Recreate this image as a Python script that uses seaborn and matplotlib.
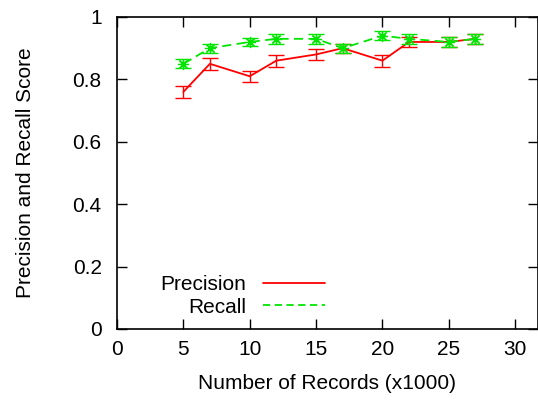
import matplotlib
matplotlib.use("Agg")
import matplotlib.pyplot as plt
from matplotlib.lines import Line2D
import seaborn as sns
import pandas as pd

# data
records = [5, 7, 10, 12, 15, 17, 20, 22, 25, 27]
precision = [0.76, 0.85, 0.81, 0.86, 0.88, 0.90, 0.86, 0.92, 0.92, 0.93]
precision_err = [0.019, 0.019, 0.017, 0.019, 0.019, 0.015, 0.019, 0.017, 0.015, 0.015]
recall = [0.85, 0.90, 0.92, 0.93, 0.93, 0.90, 0.94, 0.93, 0.92, 0.93]
recall_err = [0.015, 0.015, 0.012, 0.015, 0.015, 0.015, 0.015, 0.015, 0.015, 0.015]

RED = "#ff0000"
GREEN = "#00e600"
FS = 15

sns.set_style("ticks")
plt.rcParams["font.family"] = ["Liberation Sans", "DejaVu Sans"]
plt.rcParams["text.color"] = "black"
plt.rcParams["axes.labelcolor"] = "black"

df = pd.DataFrame({"records": records, "precision": precision, "recall": recall})

fig = plt.figure(figsize=(5.38, 4.03), dpi=100)
ax = fig.add_axes([117 / 538, 1 - 329 / 403, 1 - 117 / 538, (329 - 17) / 403])

# lines
sns.lineplot(data=df, x="records", y="precision", color=RED, lw=1.3, ax=ax)
sns.lineplot(data=df, x="records", y="recall", color=GREEN, lw=1.3,
             linestyle=(0, (5, 3)), ax=ax)

# error bars
ax.errorbar(records, precision, yerr=precision_err, fmt="none", ecolor=RED,
            elinewidth=1.0, capsize=6, capthick=1.0)
ax.errorbar(records, recall, yerr=recall_err, fmt="none", ecolor=GREEN,
            elinewidth=1.0, capsize=6, capthick=1.0)
ax.plot(records, recall, linestyle="none", marker=(8, 2, 0), markersize=8,
        markeredgecolor=GREEN, markeredgewidth=0.9, color=GREEN)

ax.set_xlim(0, 31.72)
ax.set_ylim(0, 1)
ax.set_xticks([0, 5, 10, 15, 20, 25, 30])
ax.set_yticks([0, 0.2, 0.4, 0.6, 0.8, 1])
ax.set_yticklabels(["0", "0.2", "0.4", "0.6", "0.8", "1"])
ax.tick_params(direction="in", length=7, width=1, labelsize=FS,
               top=True, right=True, colors="black")
ax.tick_params(axis="x", pad=8)
ax.tick_params(axis="y", pad=11)
for s in ax.spines.values():
    s.set_visible(True)
    s.set_linewidth(1.2)
    s.set_color("black")

ax.set_xlabel("Number of Records (x1000)", fontsize=FS, labelpad=11)
ax.set_ylabel("Precision and Recall Score", fontsize=FS, labelpad=27)

handles = [Line2D([], [], color=RED, lw=1.3),
           Line2D([], [], color=GREEN, lw=1.3, linestyle=(0, (4, 2.5)))]
ax.legend(handles, ["Precision", "Recall"], loc="center right",
          bbox_to_anchor=(325 / 538, 1 - 296 / 403), bbox_transform=fig.transFigure,
          frameon=False, markerfirst=False, fontsize=FS, handlelength=3.0,
          handletextpad=0.8, borderpad=0, borderaxespad=0, labelspacing=0.15)

fig.savefig("out.png", dpi=100)
